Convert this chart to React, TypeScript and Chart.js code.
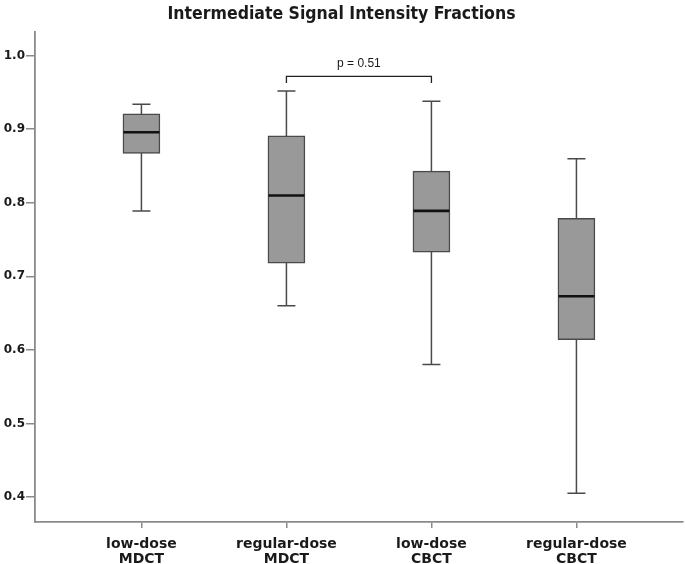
import React, { useEffect, useRef } from "react";
import { Chart, registerables } from "chart.js";

Chart.register(...registerables);

const title = "Intermediate Signal Intensity Fractions";
const categories: string[][] = [
  ["low-dose", "MDCT"],
  ["regular-dose", "MDCT"],
  ["low-dose", "CBCT"],
  ["regular-dose", "CBCT"],
];
const positions = [1, 2, 3, 4];
const whiskerLow = [0.789, 0.66, 0.58, 0.405];
const q1 = [0.867, 0.718, 0.733, 0.614];
const medians = [0.896, 0.81, 0.789, 0.673];
const q3 = [0.921, 0.891, 0.843, 0.779];
const whiskerHigh = [0.934, 0.952, 0.938, 0.86];
const yTicks = [0.4, 0.5, 0.6, 0.7, 0.8, 0.9, 1.0];
const pValueLabel = "p = 0.51";
const bracketFrom = 2;
const bracketTo = 3;
const bracketValue = 0.972;
const bracketLegValue = 0.963;

const AXIS_GRAY = "#8a8a8a";
const LINE_GRAY = "#4a4a4a";

const boxPlugin = {
  id: "boxExtras",
  beforeDatasetsDraw(chart: any) {
    const { ctx, scales } = chart;
    const x = scales.x;
    const y = scales.y;
    ctx.save();
    ctx.strokeStyle = LINE_GRAY;
    ctx.lineWidth = 1.5;
    positions.forEach((p, i) => {
      const px = x.getPixelForValue(p);
      const yl = y.getPixelForValue(whiskerLow[i]);
      const yh = y.getPixelForValue(whiskerHigh[i]);
      ctx.beginPath();
      ctx.moveTo(px, yl);
      ctx.lineTo(px, yh);
      ctx.moveTo(px - 9, yl);
      ctx.lineTo(px + 9, yl);
      ctx.moveTo(px - 9, yh);
      ctx.lineTo(px + 9, yh);
      ctx.stroke();
    });
    ctx.restore();
  },
  afterDatasetsDraw(chart: any) {
    const { ctx, scales } = chart;
    const x = scales.x;
    const y = scales.y;
    ctx.save();
    ctx.strokeStyle = "#111111";
    ctx.lineWidth = 2.6;
    positions.forEach((p, i) => {
      const px = x.getPixelForValue(p);
      const ym = y.getPixelForValue(medians[i]);
      ctx.beginPath();
      ctx.moveTo(px - 18, ym);
      ctx.lineTo(px + 18, ym);
      ctx.stroke();
    });
    // significance bracket
    const x1 = x.getPixelForValue(bracketFrom);
    const x2 = x.getPixelForValue(bracketTo);
    const yb = y.getPixelForValue(bracketValue);
    const yleg = y.getPixelForValue(bracketLegValue);
    ctx.strokeStyle = "#222222";
    ctx.lineWidth = 1.3;
    ctx.beginPath();
    ctx.moveTo(x1, yleg);
    ctx.lineTo(x1, yb);
    ctx.lineTo(x2, yb);
    ctx.lineTo(x2, yleg);
    ctx.stroke();
    ctx.fillStyle = "#1a1a1a";
    ctx.font = "12px 'Liberation Sans', Arial, sans-serif";
    ctx.textAlign = "center";
    ctx.textBaseline = "middle";
    ctx.fillText(pValueLabel, (x1 + x2) / 2, yb - 13);
    ctx.restore();
  },
};

export default function App() {
  const canvasRef = useRef<HTMLCanvasElement | null>(null);

  useEffect(() => {
    document.body.style.margin = "0";
    const canvas = canvasRef.current;
    if (!canvas) return;
    const chart = new Chart(canvas, {
      type: "bar",
      data: {
        datasets: [
          {
            data: positions.map((p, i) => ({ x: p, y: [q1[i], q3[i]] })) as any,
            backgroundColor: "#999999",
            borderColor: LINE_GRAY,
            borderWidth: 1.5,
            borderSkipped: false,
            barThickness: 37,
          },
        ],
      },
      options: {
        animation: false,
        responsive: false,
        maintainAspectRatio: false,
        layout: { padding: { left: 0, right: 2, top: 0, bottom: 0 } },
        plugins: {
          legend: { display: false },
          tooltip: { enabled: false },
          title: {
            display: true,
            text: title,
            color: "#1a1a1a",
            font: {
              family: "'DejaVu Sans Condensed', 'Liberation Sans Narrow', 'DejaVu Sans', sans-serif",
              size: 17.5,
              weight: "bold",
            },
            padding: { top: 4, bottom: 7 },
          },
        },
        scales: {
          x: {
            type: "linear",
            offset: false,
            min: 0.266,
            max: 4.735,
            afterFit: (scale: any) => {
              scale.height = 42;
            },
            afterBuildTicks: (scale: any) => {
              scale.ticks = positions.map((p) => ({ value: p }));
            },
            ticks: {
              autoSkip: false,
              maxRotation: 0,
              padding: 9,
              color: "#1a1a1a",
              font: {
                family: "'DejaVu Sans', sans-serif",
                size: 14,
                weight: "bold",
                lineHeight: 1.05,
              },
              callback: (_v: any, idx: number) => categories[idx],
            },
            grid: {
              offset: false,
              drawOnChartArea: false,
              drawTicks: true,
              tickLength: 6,
              color: AXIS_GRAY,
              lineWidth: 1.5,
            },
            border: { display: true, color: AXIS_GRAY, width: 1.8 },
          },
          y: {
            type: "linear",
            min: 0.366,
            max: 1.0322,
            afterFit: (scale: any) => {
              scale.width = 35;
            },
            afterBuildTicks: (scale: any) => {
              scale.ticks = yTicks.map((v) => ({ value: v }));
            },
            ticks: {
              padding: 1,
              color: "#1a1a1a",
              font: {
                family: "'DejaVu Sans', sans-serif",
                size: 12,
                weight: "bold",
              },
              callback: (v: any) => Number(v).toFixed(1),
            },
            grid: {
              drawOnChartArea: false,
              drawTicks: true,
              tickLength: 9,
              color: AXIS_GRAY,
              lineWidth: 1.5,
            },
            border: { display: true, color: AXIS_GRAY, width: 1.8 },
          },
        },
      },
      plugins: [boxPlugin],
    } as any);
    return () => chart.destroy();
  }, []);

  return (
    <div style={{ width: 685, height: 564, background: "#ffffff" }}>
      <canvas ref={canvasRef} width={685} height={564} style={{ display: "block" }} />
    </div>
  );
}
